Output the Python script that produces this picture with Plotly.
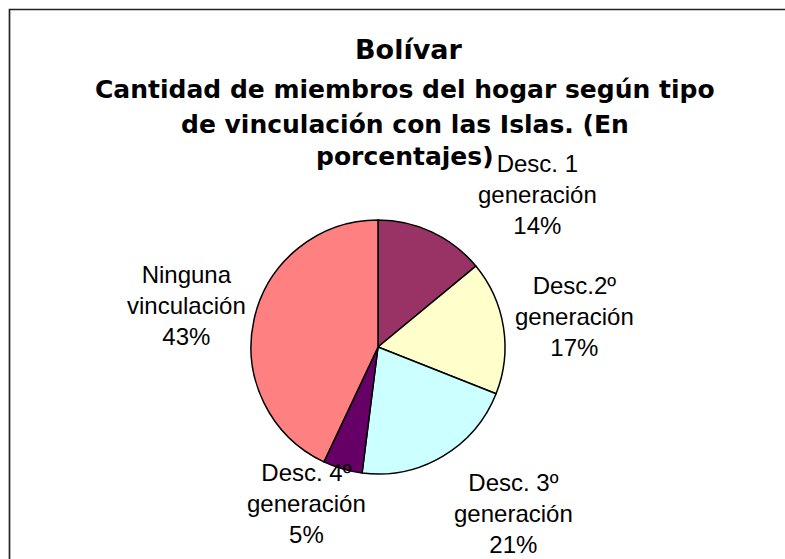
import plotly.graph_objects as go

# ---- data ----
categories = ["Desc. 1 generación", "Desc.2º generación", "Desc. 3º generación",
              "Desc. 4º generación", "Ninguna vinculación"]
values = [14, 17, 21, 5, 43]
colors = ["#993366", "#FFFFCC", "#CCFFFF", "#660066", "#FF8080"]

title_main = "Bolívar"
title_lines = ["Cantidad de miembros del hogar según tipo",
               "de vinculación con las Islas. (En",
               "porcentajes)"]

# ---- layout helpers (pixels -> paper) ----
W, H = 785, 559
def px(x):
    return x / W
def py(y):
    return 1 - y / H

cx, cy, r = 378, 347, 127

fig = go.Figure()
fig.add_trace(go.Pie(
    labels=categories,
    values=values,
    sort=False,
    direction="clockwise",
    rotation=0,
    marker=dict(colors=colors, line=dict(color="black", width=1.5)),
    textinfo="none",
    hoverinfo="label+percent",
    showlegend=False,
    domain=dict(x=[px(cx - r), px(cx + r)], y=[py(cy + r), py(cy - r)]),
))

annotations = []
# title lines
annotations.append(dict(text=f"<b>{title_main}</b>", x=px(408), y=py(49),
                        xref="paper", yref="paper", showarrow=False,
                        xanchor="center", yanchor="middle",
                        font=dict(family="DejaVu Sans", size=27, color="black")))
title_y = [89, 124, 157]
for t, yy in zip(title_lines, title_y):
    annotations.append(dict(text=f"<b>{t}</b>", x=px(405), y=py(yy),
                            xref="paper", yref="paper", showarrow=False,
                            xanchor="center", yanchor="middle",
                            font=dict(family="DejaVu Sans", size=25, color="black")))

# data labels (positions are layout choices)
label_pos = [(537, 195), (574, 316), (513.5, 513), (306, 503), (186.5, 305)]
total = sum(values)
for cat, v, (lx, ly) in zip(categories, values, label_pos):
    a, b = cat.rsplit(" ", 1)
    pct = round(100 * v / total)
    annotations.append(dict(text=f"{a}<br>{b}<br>{pct}%", x=px(lx), y=py(ly),
                            xref="paper", yref="paper", showarrow=False,
                            xanchor="center", yanchor="middle", align="center",
                            font=dict(family="Liberation Sans, Arial", size=24, color="black")))

fig.update_layout(
    width=W, height=H,
    margin=dict(l=0, r=0, t=0, b=0),
    paper_bgcolor="white",
    plot_bgcolor="white",
    annotations=annotations,
    shapes=[dict(type="rect", xref="paper", yref="paper",
                 x0=px(9.5), x1=1.05, y0=-0.05, y1=py(9.5),
                 line=dict(color="#222222", width=1.7), fillcolor="rgba(0,0,0,0)")],
)

fig.write_html("out.html",
               config={"displayModeBar": False},
               post_script="document.body.style.margin='0';document.body.style.overflow='hidden';")
